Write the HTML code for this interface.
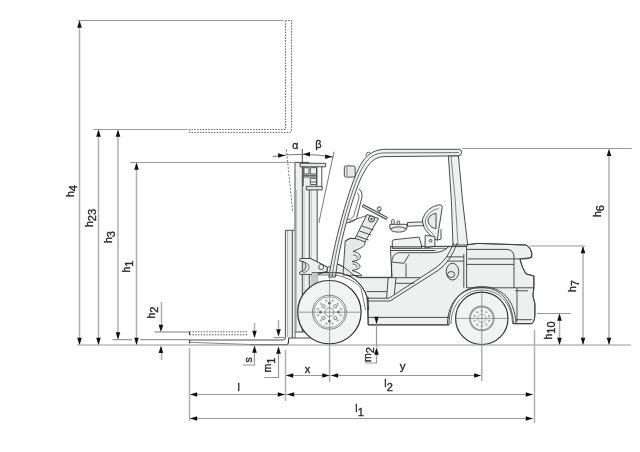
<!DOCTYPE html>
<html><head><meta charset="utf-8">
<style>
html,body{margin:0;padding:0;background:#fff;}
svg{display:block;will-change:transform;}
text{font-family:"Liberation Sans",sans-serif;fill:#2a2a2a;}
</style></head><body>
<svg width="640" height="452" viewBox="0 0 640 452">
<g id="fork" stroke="#3a3a3a" stroke-width="0.9" fill="none" stroke-linejoin="round">
<!-- body fills -->
<path d="M311.7,272.7 H337.5 C350,274 362,282 367,297 L368.2,324.9 H449 C449,300 462,288 481.8,287.5 C500,288 512,300 513.5,323.7 H531.9 Q534.9,321 534.9,315.7 V303.7 L532.9,295.8 L533.9,287.8 V275.9 L525.9,273.9 Q522,268 519.9,258.9 L531.9,257.5 Q532,248 525.9,245 L477.8,243.4 L467.5,244.7 L466.6,246.3 H390.6 V252 L392,277.3 H359.4 C352,276 348,268 337.5,264 Z" fill="#eef0f0"/>
<!-- mast -->
<rect x="295" y="162.5" width="22.2" height="169.5" fill="#eef0f0" stroke="none"/>
<path d="M295,162.4 V338 M302.3,149 V332 M309.3,190 V332 M317.2,190 V332"/>
<path d="M295,332 H317.2 M295,162.4 H309.4"/>
<path d="M296.5,190 V332 M304,190 V332 M311.25,190 V332" stroke="#aaa" stroke-width="0.7"/>
<!-- mast top -->
<path d="M300.1,163.3 H325.7 V166.8 H300.1 Z" fill="#e4e6e6"/>
<path d="M303.2,166.8 V186.3 M321.8,166.8 V186.3 M316.9,166.8 V186.3"/>
<path d="M303.2,175.3 H316.9 V177 H303.2 Z" fill="#d8dada"/>
<path d="M304,167.7 H309 V174 H304 Z M310.3,167.7 H316.5 V174 H310.3 Z" stroke-width="0.8"/>
<path d="M310.3,178.4 H316.5 V184.5 H310.3 Z M310.3,182 H316.5" stroke-width="0.8"/>
<path d="M306.3,186.3 H322.2 V189.9 H306.3 Z" fill="#e4e6e6"/>

<!-- backrest / fork shank -->
<rect x="285.4" y="230.3" width="9" height="108" fill="#eef0f0" stroke="none"/>
<path d="M285.4,230.3 H294.5 M285.4,230.3 V337.5 Q285.4,340 283,340 H189.5 M292.3,231 V338 M288.6,338 H318"/>
<path d="M287.6,231 V337" stroke="#999" stroke-width="0.8"/>
<path d="M189.5,339.7 V343.5 M250,344.8 H286 Q288.6,344.8 288.6,341 V338" stroke-width="1.1"/>
<path d="M189.5,342.3 L250,344.5" stroke-width="0.8" stroke="#666"/>
<!-- raised fork dashed -->
<path d="M189.5,331.8 H248 M189.5,334.8 H248" stroke-dasharray="1.6,1.2" stroke="#555"/>
<path d="M189.5,331.5 V335" stroke-width="1"/>
<!-- tilt angle lines -->
<path d="M286.4,149.5 L292.6,211" stroke-dasharray="2,1.5" stroke="#555" stroke-width="0.8"/>
<path d="M334,151.7 L318.8,223" stroke="#555" stroke-width="0.8"/>
<path d="M272.7,156.6 Q302,151.8 333.5,157.1" stroke="#555" stroke-width="0.8"/>
<!-- tilt bracket -->
<path d="M310.6,258.5 L327.2,267 V271.5 L312,276 Z" fill="#d8dada"/>
<path d="M300,258.5 H310.6 L327.2,267 V271.5 L312,274.4 H300 Q299,273 300,272 Q306,271 306,266 Q306,261 300,261 Q299,259.5 300,258.5 Z" fill="#eef0f0"/>
<path d="M303,262 Q309,263 309,267 Q309,272 303,272.5" stroke-width="0.7"/>
<circle cx="321.2" cy="267.1" r="2.5" fill="#fff"/>
<!-- mirror -->
<rect x="344.3" y="165.9" width="10.9" height="11.2" rx="2" fill="#e8eaea"/>
<path d="M347,167 V176" stroke-width="0.6"/>
<!-- seat -->
<path d="M433.7,238.5 Q421,228 422.5,219 Q427,207 438.6,204.9 Q442.5,204.5 442.2,207.5 L438.6,230.4 L437.3,240.2 Z" fill="#f0f2f2"/>
<path d="M434,235 Q424,227 425.5,219.5 Q429,210.5 438.5,208.5" stroke-width="0.6"/>
<path d="M428,221.5 Q428,214.5 436.1,213.4 L436,228.5 Q430,228 428,221.5 Z" fill="#e8eaea"/>
<path d="M441,229.2 V239 L437.3,240.2"/>
<path d="M392.3,241.4 Q392.5,239.6 394.7,239.6 L419.1,237.1 L421.5,245 L421.5,248.1 H392.3 Z" fill="#f0f2f2"/>
<path d="M425.2,235.3 L434.9,236.5 V246.3 L425,248 Z" fill="#f0f2f2"/>
<circle cx="430.6" cy="240.7" r="1.3"/>
<path d="M392,248.5 H447" stroke-width="0.6"/>
<path d="M407.5,222.5 L422,221.9 L424,225.6 L407.5,226.2 Z" fill="#f0f2f2"/>
<path d="M389.9,224.3 H406.9 V228.6 H389.9 Z" fill="#f0f2f2"/>
<ellipse cx="398.4" cy="229.5" rx="7.5" ry="2.6" fill="#e8eaea"/>
<rect x="391.6" y="219.5" width="2.6" height="4.8" rx="1" fill="#f0f2f2" stroke-width="0.8"/>
<rect x="397.1" y="221" width="2.6" height="3.3" rx="1" fill="#f0f2f2" stroke-width="0.8"/>
<!-- steering -->
<path d="M345.2,241 Q350,237 355,238.5 L367,214.5 L378.5,218.5 L365,242 C366,247 358,249 353,251.5 C360,252 362,257 359,259.5 C356,261 353,261 352,261.5 C358,262 362,266 359,268.5 C356,270 353,270 352,270.5 C357,272 360,273 361.9,275.8 L343,275 Z" fill="#e8eaea"/>
<path d="M353,255 C357,255 358,257.5 357,258.5 M352.5,264 C356,264 357.5,266 356.5,267.5" stroke-width="0.8"/>
<path d="M345.2,241 Q350,237 355,238.5 Q361,240 365,242"/>
<path d="M362,226 L373.5,230 M359.5,231 L371,235 M357,236 L368.5,240" stroke-width="0.9"/>
<path d="M362.4,205.3 L387.2,218.6" stroke-width="3.2"/>
<path d="M362.8,205.8 L386.8,218.2" stroke-width="1.1" stroke="#f0f2f2"/>
<path d="M379.2,213 V209" stroke-width="1"/>
<circle cx="379.2" cy="208.8" r="2" fill="#e8eaea"/>
<circle cx="371.5" cy="219" r="3" fill="#e8eaea" stroke-width="1"/>
<circle cx="371.5" cy="219" r="1.2" fill="#555" stroke="none"/>
<path d="M358.7,189 Q362.5,191 362,197 L356.5,218.5 Q354,222 346.5,223" stroke-width="0.9"/>
<path d="M357,193 Q359.5,194.5 359,198 L353.5,216.5 Q351,219.5 347,220" stroke-width="0.7"/>
<path d="M349,221.5 L367,215.5" stroke-width="0.8"/>
<!-- overhead guard -->
<path d="M459.7,149.3 L386,149.3 C376,149.3 368.5,153 363,161 C352.3,175 335.5,235 328.8,277.3 L335.5,277 C339.5,240 355.5,187 363,174 C369,163 374,157 384,156.6 L458,155.9 Q461.5,155.9 461.5,152.6 Q461.5,149.3 459.7,149.3 Z" fill="#f0f2f2"/>
<path d="M459,152.6 L385,152.9 C375,153 368.5,157 363.5,166 C354,180 337.5,237 332,277" stroke-width="0.7"/>
<path d="M365.8,156 L367,152.6 Q368.3,151.6 370,153" stroke-width="0.8"/>
<!-- rear pillar -->
<path d="M448.4,156 Q452,200 453,245 L467.7,245 Q462,200 458.4,156 Z" fill="#f0f2f2"/>
<path d="M451,156 Q456,200 458,245" stroke-width="0.6"/>
<!-- hood/step boxes -->
<path d="M391.6,277.1 V263.3 Q392,254 398.3,252.7"/>
<path d="M392.2,262.1 L403.8,263.3 L409.3,254.4 M406,263.3 V277.1"/>
<path d="M398.3,252.7 H434.2 Q444,252 449,246.3"/>
<path d="M388.2,277.7 L386.6,298 M396,277.7 L394.3,294.8 M396,283.3 H414.3"/>
<path d="M337.5,264 C348,268 352,276 359.4,277.7 H420"/>
<path d="M391,246.6 H466.6" stroke-width="0.7"/>
<path d="M391,250.5 H435.4"/>
<!-- sweep lines -->
<path d="M366.6,298.2 H389 L436,267.6 Q448,259 453.5,243"/>
<path d="M367.75,301 H390 L438,270.5 Q451,261.5 457,243"/>
<path d="M366.6,291.6 H386.6"/>
<!-- chassis bottom -->
<path d="M368.2,317.4 H449 M368.2,324.9 H449 M368.2,297 V324.9"/>
<!-- counterweight lines -->
<path d="M463.8,254 V287.8 M466.6,246.3 V287.8"/>
<path d="M446.9,256.9 H463.8 M447,261.1 H463.8"/>
<path d="M467.5,244.7 L477.8,243.4 L525.9,245 Q532,248 531.9,255 Q531,258.9 527,258.9 H468"/>
<path d="M466.6,249.4 H507 Q514,250 514,257 V287.8"/>
<path d="M466.6,264.4 H514 M466.6,287.8 H533.9"/>
<path d="M519.9,258.9 Q522,268 525.9,273.9 L533.9,275.9 V287.8"/>
<path d="M517,288 V322 M515,290.8 H528 M516,319.7 H532"/>
<path d="M513.5,323.7 H531.9 Q534.9,321 534.9,315.7 V303.7 L532.9,295.8 L533.9,287.8"/>
<!-- fuel cap -->
<ellipse cx="452.5" cy="271.6" rx="6.3" ry="8.4" fill="#e8eaea"/>
<ellipse cx="451.1" cy="274.5" rx="3.5" ry="3" />
<!-- front fender -->
<path d="M311.7,272.7 H337.5 C350,274 362,282 367.2,296.9 L368.75,310"/>
<path d="M311.7,275 H334.4 C348,276.5 358,284 361,288.3 L365.6,310" stroke-width="0.7"/>
<rect x="311.7" y="273" width="6" height="12" fill="#c8caca" stroke="none"/>
<!-- rear fender arch -->
<path d="M447.5,324 C447.5,302 462,286.6 481.8,286.6 C502,286.6 515,300 516,324"/>
<path d="M451,324 C451,305 464,290 481.8,290 C499,290 512,303 512.5,324" stroke-width="0.7"/>
<!-- front wheel -->
<circle cx="329.4" cy="312.2" r="31.7" fill="#f2f3f3" stroke="#333" stroke-width="1.2"/>
<circle cx="329.4" cy="312.2" r="17" fill="#f6f7f7" stroke="#666" stroke-width="0.8"/>
<circle cx="329.4" cy="312.2" r="15.5" stroke="#777" stroke-width="0.7"/>
<circle cx="335.27" cy="318.07" r="1.6" stroke="#666" stroke-width="0.8"/>
<circle cx="323.53" cy="318.07" r="1.6" stroke="#666" stroke-width="0.8"/>
<circle cx="323.53" cy="306.33" r="1.6" stroke="#666" stroke-width="0.8"/>
<circle cx="335.27" cy="306.33" r="1.6" stroke="#666" stroke-width="0.8"/>
<circle cx="329.40" cy="303.20" r="1.4" fill="#666" stroke="none"/>
<circle cx="329.40" cy="321.20" r="1.4" fill="#666" stroke="none"/>
<circle cx="320.40" cy="312.20" r="1.4" fill="#666" stroke="none"/>
<circle cx="338.40" cy="312.20" r="1.4" fill="#666" stroke="none"/>
<circle cx="340.80" cy="315.25" r="1.3" fill="#bbb" stroke="none"/>
<circle cx="337.74" cy="320.54" r="1.3" fill="#bbb" stroke="none"/>
<circle cx="332.45" cy="323.60" r="1.3" fill="#bbb" stroke="none"/>
<circle cx="326.35" cy="323.60" r="1.3" fill="#bbb" stroke="none"/>
<circle cx="321.06" cy="320.54" r="1.3" fill="#bbb" stroke="none"/>
<circle cx="318.00" cy="315.25" r="1.3" fill="#bbb" stroke="none"/>
<circle cx="318.00" cy="309.15" r="1.3" fill="#bbb" stroke="none"/>
<circle cx="321.06" cy="303.86" r="1.3" fill="#bbb" stroke="none"/>
<circle cx="326.35" cy="300.80" r="1.3" fill="#bbb" stroke="none"/>
<circle cx="332.45" cy="300.80" r="1.3" fill="#bbb" stroke="none"/>
<circle cx="337.74" cy="303.86" r="1.3" fill="#bbb" stroke="none"/>
<circle cx="340.80" cy="309.15" r="1.3" fill="#bbb" stroke="none"/>
<circle cx="329.4" cy="312.2" r="4.4" stroke="#666" stroke-width="0.7"/>
<!-- rear wheel -->
<circle cx="481.8" cy="318.4" r="26.2" fill="#f2f3f3" stroke="#333" stroke-width="1.2"/>
<circle cx="481.8" cy="318.4" r="11.9" stroke="#999" stroke-width="1.9"/>
<circle cx="489.03" cy="320.75" r="1.1" fill="#aaa" stroke="none"/>
<circle cx="486.27" cy="324.55" r="1.1" fill="#aaa" stroke="none"/>
<circle cx="481.80" cy="326.00" r="1.1" fill="#aaa" stroke="none"/>
<circle cx="477.33" cy="324.55" r="1.1" fill="#aaa" stroke="none"/>
<circle cx="474.57" cy="320.75" r="1.1" fill="#aaa" stroke="none"/>
<circle cx="474.57" cy="316.05" r="1.1" fill="#aaa" stroke="none"/>
<circle cx="477.33" cy="312.25" r="1.1" fill="#aaa" stroke="none"/>
<circle cx="481.80" cy="310.80" r="1.1" fill="#aaa" stroke="none"/>
<circle cx="486.27" cy="312.25" r="1.1" fill="#aaa" stroke="none"/>
<circle cx="489.03" cy="316.05" r="1.1" fill="#aaa" stroke="none"/>
<circle cx="481.8" cy="318.4" r="4.2" stroke="#999" stroke-width="0.7"/>
</g>
<g stroke="#777" stroke-width="0.7" fill="none">
<path d="M297,312.2 H362 M329.6,272 V345"/>
<path d="M455,318.4 H508.5 M481.8,290 V345"/>
</g>

<g fill="none" stroke="#989898" stroke-width="1.2">
<!-- top raised fork box -->
<path d="M77.5,20.5 H283.5"/>
<path d="M285.5,20.5 V129.5 H189.5 V132.5 H289 Q291.5,132.5 291.5,130 V20.5 H286" stroke-dasharray="1.6,1.2" stroke="#777"/>
<path d="M93.5,129.5 H187.5"/>
<path d="M130,162.5 H294.5"/>
<!-- ground -->
<path d="M77,345 H631"/>
<path d="M112.5,339.7 H132 M140,339.7 H189.5"/>
<!-- h4, h23, h3, h1 -->
<path d="M79.5,22 V344" stroke="#b0b0b0" stroke-width="1.5"/>
<path d="M98.5,131 V344" stroke="#b0b0b0" stroke-width="1.5"/>
<path d="M118,131 V338" stroke="#b0b0b0" stroke-width="1.5"/>
<path d="M136.5,164 V344" stroke="#b0b0b0" stroke-width="1.5"/>
<!-- h2 -->
<path d="M161.5,302 V330" stroke="#b0b0b0" stroke-width="1.5"/>
<path d="M161.5,347 V360" stroke="#b0b0b0" stroke-width="1.5"/>
<path d="M154.4,332 H189" stroke="#aaa" stroke-width="1.4"/>
<!-- s, m1 -->
<path d="M254.5,323 V337" stroke="#b0b0b0" stroke-width="1.5"/>
<path d="M254.5,347 V365 H243"/>
<path d="M278.5,320 V335" stroke="#b0b0b0" stroke-width="1.5"/>
<path d="M278.5,348 V377.5 H264"/>
<path d="M273.5,337.5 H285"/>
<!-- bottom dims -->
<path d="M189.5,348 V421" stroke="#b0b0b0" stroke-width="1.5"/>
<path d="M285.5,350 V401" stroke="#b0b0b0" stroke-width="1.5"/>
<path d="M329.6,345 V382" stroke="#b0b0b0" stroke-width="1.5"/>
<path d="M481.8,345 V381" stroke="#b0b0b0" stroke-width="1.5"/>
<path d="M534.5,330 V423" stroke="#b0b0b0" stroke-width="1.5"/>
<path d="M190,394.5 H533"/>
<path d="M190,418.5 H533"/>
<path d="M286,375.5 H480"/>
<!-- m2 -->
<path d="M376.5,318 V347 M376.5,353 V363 H365.5"/>
<!-- right dims -->
<path d="M462,148.5 H631.5"/>
<path d="M609,150 V344" stroke="#b0b0b0" stroke-width="1.5"/>
<path d="M530,246 H585"/>
<path d="M583,247 V344" stroke="#b0b0b0" stroke-width="1.5"/>
<path d="M537,313.5 H570.5"/>
<path d="M559.5,315 V344" stroke="#b0b0b0" stroke-width="1.5"/>
</g>
<g fill="#111" stroke="none">
<!-- arrowheads: up tip (x,y) -->
</g>

<g fill="#111" stroke="none">
<path d="M79.50,20.50 L77.20,27.70 L81.80,27.70 Z"/>
<path d="M79.50,345.00 L77.20,337.80 L81.80,337.80 Z"/>
<path d="M98.50,129.50 L96.20,136.70 L100.80,136.70 Z"/>
<path d="M98.50,345.00 L96.20,337.80 L100.80,337.80 Z"/>
<path d="M118.00,129.50 L115.70,136.70 L120.30,136.70 Z"/>
<path d="M118.00,339.50 L115.70,332.30 L120.30,332.30 Z"/>
<path d="M136.50,162.50 L134.20,169.70 L138.80,169.70 Z"/>
<path d="M136.50,345.00 L134.20,337.80 L138.80,337.80 Z"/>
<path d="M160.90,332.00 L158.60,324.80 L163.20,324.80 Z"/>
<path d="M160.90,345.70 L158.60,352.90 L163.20,352.90 Z"/>
<path d="M254.50,338.00 L252.20,330.80 L256.80,330.80 Z"/>
<path d="M254.50,345.50 L252.20,352.70 L256.80,352.70 Z"/>
<path d="M278.50,336.50 L276.20,329.30 L280.80,329.30 Z"/>
<path d="M278.50,346.50 L276.20,353.70 L280.80,353.70 Z"/>
<path d="M285.30,155.50 L278.10,153.20 L278.10,157.80 Z"/>
<path d="M302.80,154.30 L310.00,152.00 L310.00,156.60 Z"/>
<path d="M332.40,156.80 L325.20,154.50 L325.20,159.10 Z"/>
<path d="M190.00,394.50 L197.20,392.20 L197.20,396.80 Z"/>
<path d="M285.00,394.50 L277.80,392.20 L277.80,396.80 Z"/>
<path d="M287.00,394.50 L294.20,392.20 L294.20,396.80 Z"/>
<path d="M533.00,394.50 L525.80,392.20 L525.80,396.80 Z"/>
<path d="M190.00,418.50 L197.20,416.20 L197.20,420.80 Z"/>
<path d="M533.00,418.50 L525.80,416.20 L525.80,420.80 Z"/>
<path d="M286.00,375.50 L293.20,373.20 L293.20,377.80 Z"/>
<path d="M329.50,375.50 L322.30,373.20 L322.30,377.80 Z"/>
<path d="M331.00,375.50 L338.20,373.20 L338.20,377.80 Z"/>
<path d="M481.30,375.50 L474.10,373.20 L474.10,377.80 Z"/>
<path d="M376.50,324.00 L374.20,316.80 L378.80,316.80 Z"/>
<path d="M376.50,347.50 L374.20,354.70 L378.80,354.70 Z"/>
<path d="M609.00,148.80 L606.70,156.00 L611.30,156.00 Z"/>
<path d="M609.00,345.00 L606.70,337.80 L611.30,337.80 Z"/>
<path d="M583.00,246.00 L580.70,253.20 L585.30,253.20 Z"/>
<path d="M583.00,345.00 L580.70,337.80 L585.30,337.80 Z"/>
<path d="M559.50,313.50 L557.20,320.70 L561.80,320.70 Z"/>
<path d="M559.50,345.00 L557.20,337.80 L561.80,337.80 Z"/>
</g>
<g font-size="10.5" fill="#2a2a2a" stroke="#2a2a2a" stroke-width="0.35">
<text transform="translate(73.5,197) rotate(-90)">h<tspan font-size="11" dy="3">4</tspan></text>
<text transform="translate(92.5,227) rotate(-90)">h<tspan font-size="11" dy="3">23</tspan></text>
<text transform="translate(111.5,243) rotate(-90)">h<tspan font-size="11" dy="3">3</tspan></text>
<text transform="translate(130,272.5) rotate(-90)">h<tspan font-size="11" dy="3">1</tspan></text>
<text transform="translate(155,318.5) rotate(-90)">h<tspan font-size="11" dy="3">2</tspan></text>
<text transform="translate(252,362.5) rotate(-90)">s</text>
<text transform="translate(271.4,372.5) rotate(-90)">m<tspan font-size="11" dy="4">1</tspan></text>
<text transform="translate(370.6,362) rotate(-90)">m<tspan font-size="11" dy="3">2</tspan></text>
<text transform="translate(551.5,339.5) rotate(-90)">h<tspan font-size="11" dy="3">10</tspan></text>
<text transform="translate(575.7,292) rotate(-90)">h<tspan font-size="11" dy="3">7</tspan></text>
<text transform="translate(601.3,217) rotate(-90)">h<tspan font-size="11" dy="3">6</tspan></text>
<text x="237.5" y="390.6">l</text>
<text x="304.8" y="372.8" font-size="11">x</text>
<text x="399.8" y="369.8" font-size="11.5">y</text>
<text x="384.3" y="386.8">l<tspan font-size="11" dy="4">2</tspan></text>
<text x="355.3" y="412">l<tspan font-size="11" dy="4">1</tspan></text>
<text x="292.3" y="149" font-size="10.5" font-family="Liberation Serif">α</text>
<text x="315.3" y="148" font-size="11" font-family="Liberation Serif">β</text>
</g>

</svg>
</body></html>
